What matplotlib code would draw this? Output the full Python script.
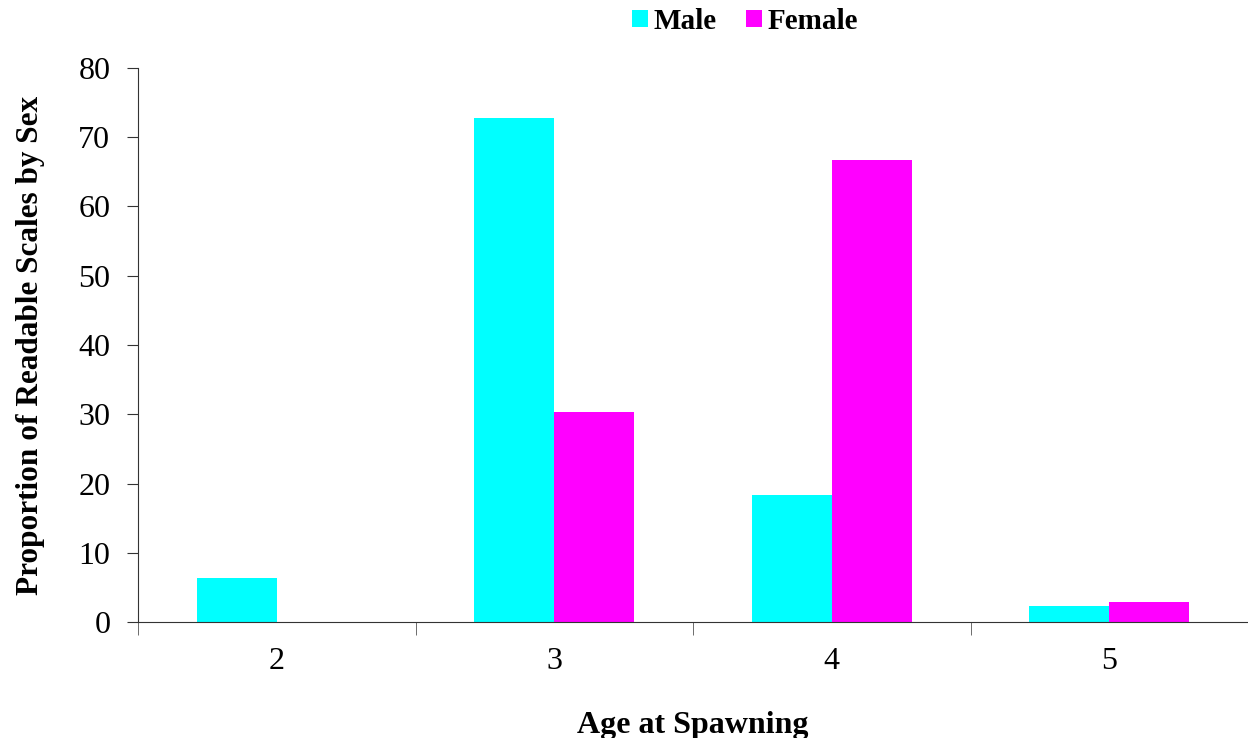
import numpy as np
import matplotlib.pyplot as plt

plt.rcParams['font.family'] = ['Liberation Serif', 'DejaVu Serif']

ages = ["2", "3", "4", "5"]
male = [6.3, 72.8, 18.3, 2.35]
female = [0.0, 30.3, 66.7, 2.95]

fig = plt.figure(figsize=(12.48, 7.38), dpi=100)
ax = fig.add_axes([0.1106, 0.157, 0.8894, 0.751])

x = np.arange(len(ages))
w = 0.288
ax.bar(x - w / 2, male, width=w, color="#00ffff", label="Male")
ax.bar(x + w / 2, female, width=w, color="#ff00ff", label="Female")

ax.set_xlim(-0.5, len(ages) - 0.5)
ax.set_ylim(0, 80)
ax.set_yticks(range(0, 81, 10))
ax.set_xticks(x)
ax.set_xticklabels(ages)
ax.set_xticks(np.arange(-0.5, len(ages) - 0.5 + 0.01, 1.0)[:-1], minor=True)

for s in ["top", "right"]:
    ax.spines[s].set_visible(False)
ax.spines["left"].set_color("#333333")
ax.spines["bottom"].set_color("#333333")

ax.tick_params(axis="x", which="major", length=0, pad=18, labelsize=23)
ax.tick_params(axis="x", which="minor", length=9, direction="out", color="#555555")
ax.tick_params(axis="y", length=8, direction="out", labelsize=23, pad=12, color="#333333")

ax.set_xlabel("Age at Spawning", fontsize=23, fontweight="bold", va="center")
ax.xaxis.set_label_coords(0.5, -0.187)
ax.set_ylabel("Proportion of Readable Scales by Sex", fontsize=22.5, fontweight="bold", va="center")
ax.yaxis.set_label_coords(-0.0973, 0.5)

fig.legend(loc="upper center", bbox_to_anchor=(745 / 1248, 1.025), ncol=2, frameon=False,
           prop={"weight": "bold", "size": 21}, handlelength=0.55, handleheight=0.55,
           handletextpad=0.2, columnspacing=1.0)

fig.savefig("out.png", dpi=100)
